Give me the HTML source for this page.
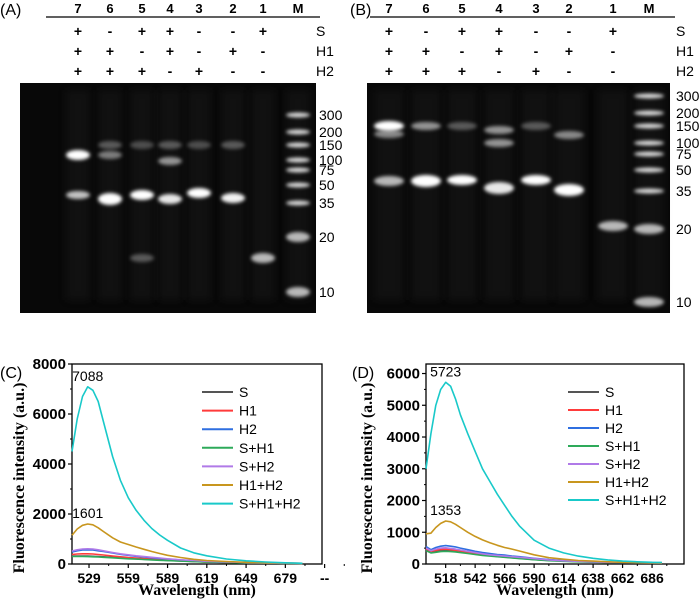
<!DOCTYPE html>
<html><head><meta charset="utf-8"><style>
html,body{margin:0;padding:0;background:#fff;}
</style></head><body>
<svg id="fig" width="700" height="605" viewBox="0 0 700 605" xmlns="http://www.w3.org/2000/svg" font-family="Liberation Sans, Arial, sans-serif">
<defs>
<filter id="bl" x="-50%" y="-200%" width="200%" height="500%"><feGaussianBlur stdDeviation="1.8"/></filter>
<filter id="bl2" x="-50%" y="-200%" width="200%" height="500%"><feGaussianBlur stdDeviation="4"/></filter>
</defs>
<g id="gels"></g>
<g id="chartC"></g>
<g id="chartD"></g>
</svg>
<script>
// ---- chart data ----
const seriesNames = ["S","H1","H2","S+H1","S+H2","H1+H2","S+H1+H2"];
const seriesColors = ["#555555","#ff3b3b","#2f6fe0","#2eaa5a","#b07ae8","#c8961e","#19c9c9"];
const wlC = [516,520,524,528,532,536,540,547,553,559,565,571,577,583,589,599,609,619,634,649,664,679,692];
const cS   = [320,320,320,315,310,300,290,270,250,230,210,190,175,160,145,120,100,80,60,46,36,28,24];
const cH1  = [380,400,410,410,400,380,360,320,290,260,240,220,200,180,160,130,105,85,65,50,38,30,25];
const cH2  = [480,530,560,570,560,530,500,440,390,350,310,280,250,220,200,160,130,100,75,55,42,33,27];
const cSH1 = [300,300,300,295,290,280,270,250,230,210,195,180,165,150,135,115,95,75,58,44,34,27,22];
const cSH2 = [520,570,600,610,600,570,530,460,410,370,330,300,270,240,210,170,140,110,80,60,45,35,28];
const cH1H2= [1150,1400,1550,1601,1570,1450,1300,1050,880,780,680,590,500,420,350,260,190,140,100,70,50,40,30];
const cAll = [4500,5800,6700,7088,6950,6500,5700,4300,3350,2650,2150,1750,1420,1160,950,640,450,330,200,130,80,50,30];
const ticksXC = ["529","559","589","619","649","679","--"];
const ticksYC = [0,2000,4000,6000,8000];

const wlD = [502,506,510,514,518,522,526,530,536,542,548,554,560,566,572,578,590,602,614,626,638,650,662,674,686,694];
const dS   = [450,370,400,420,430,420,400,380,350,310,280,260,240,220,200,180,140,110,90,75,62,50,43,38,34,30];
const dH1  = [480,400,430,460,470,450,430,410,370,330,300,270,250,230,210,190,150,120,95,80,65,52,45,40,36,32];
const dH2  = [550,450,520,560,580,560,540,500,450,400,360,330,300,280,250,230,180,140,110,90,75,60,50,45,40,35];
const dSH1 = [420,350,370,390,400,390,380,360,330,300,270,250,230,210,190,170,135,105,85,70,58,48,41,37,33,29];
const dSH2 = [500,420,470,500,510,490,470,440,400,360,320,290,270,250,230,210,170,130,100,85,70,55,48,42,38,33];
const dH1H2= [950,970,1150,1280,1353,1330,1250,1150,1000,870,760,670,590,520,470,410,290,200,150,110,90,70,55,45,40,35];
const dAll = [3000,4100,5000,5500,5723,5600,5200,4700,4100,3550,3000,2600,2200,1850,1500,1200,750,500,350,250,180,130,90,70,55,50];
const ticksXD = ["518","542","566","590","614","638","662","686"];
const ticksYD = [0,1000,2000,3000,4000,5000,6000];

const NS="http://www.w3.org/2000/svg";
function mk(tag,attrs,parent,txt){const e=document.createElementNS(NS,tag);for(const k in attrs)e.setAttribute(k,attrs[k]);if(txt!==undefined)e.textContent=txt;parent.appendChild(e);return e;}
const SERIF='Liberation Serif, Times New Roman, serif';

function chart(g,o){
  const xs=v=>o.x0+(v-o.wmin)/(o.wmax-o.wmin)*(o.x1-o.x0);
  const ys=v=>o.y1-(v-o.vmin)/(o.vmax-o.vmin)*(o.y1-o.y0);
  const fr=mk('rect',{x:o.x0,y:o.y0,width:o.x1-o.x0,height:o.y1-o.y0,fill:'none',stroke:'#000','stroke-width':1.3},g);
  
  o.yt.forEach(v=>{
    mk('line',{x1:o.x0-4,x2:o.x0,y1:ys(v),y2:ys(v),stroke:'#000','stroke-width':1.2},g);
    const t=mk('text',{x:o.x0-6,y:ys(v)+5,'text-anchor':'end','font-size':15,'font-weight':'bold'},g,String(v));
    
  });
  for(let i=0;i<o.yt.length-1;i++){const m=(o.yt[i]+o.yt[i+1])/2;mk('line',{x1:o.x0-2,x2:o.x0,y1:ys(m),y2:ys(m),stroke:'#000'},g);}
  o.xt.forEach((s,i)=>{
    const v=o.xt0+i*o.xstep;
    mk('line',{x1:xs(v),x2:xs(v),y1:o.y1,y2:o.y1+4,stroke:'#000','stroke-width':1.2},g);
    mk('line',{x1:xs(v+o.xstep/2),x2:xs(v+o.xstep/2),y1:o.y1,y2:o.y1+2,stroke:'#000'},g);
    const t=mk('text',{x:xs(v),y:o.y1+19,'text-anchor':'middle','font-size':14,'font-weight':'bold'},g,s);
    
  });
  const xt=mk('text',{x:(o.x0+o.x1)/2,y:595,'text-anchor':'middle','font-size':16,'font-weight':'bold','font-family':SERIF},g,'Wavelength (nm)');
  
  const cy=478;
  const yt=mk('text',{x:o.ytx,y:cy,'text-anchor':'middle','font-size':16,'font-weight':'bold','font-family':SERIF,transform:`rotate(-90 ${o.ytx} ${cy})`},g,'Fluorescence intensity (a.u.)');
  
  o.series.forEach((d,i)=>{
    const p=d.map((v,j)=>(j?'L':'M')+xs(o.wl[j]).toFixed(1)+','+ys(v).toFixed(1)).join(' ');
    const l=mk('path',{d:p,fill:'none',stroke:seriesColors[i],'stroke-width':1.6,'stroke-linejoin':'round'},g);
    
    
  });
  [5,6].forEach(i=>{
    const d=o.series[i];let m=0;d.forEach((v,j)=>{if(v>d[m])m=j;});
    const t=mk('text',{x:xs(o.wl[m]),y:ys(d[m])-6,'text-anchor':'middle','font-size':14},g,String(d[m]));
    
  });
  seriesNames.forEach((n,i)=>{
    const y=o.ly0+i*o.ldy;
    const l=mk('line',{x1:o.lx,x2:o.lx+31,y1:y,y2:y,stroke:seriesColors[i],'stroke-width':2},g);
    
    const t=mk('text',{x:o.lx+37,y:y+5,'font-size':14},g,n);
    
  });
  const pl=mk('text',{x:o.px,y:378,'font-size':16},g,o.plab);
  
}
chart(document.getElementById('chartC'),{x0:72,x1:322,y0:364,y1:564,wmin:516,wmax:707,vmin:0,vmax:8000,
  yt:ticksYC,xt:ticksXC,xt0:529,xstep:30,wl:wlC,series:[cS,cH1,cH2,cSH1,cSH2,cH1H2,cAll],
  ytx:24,lx:202,ly0:392,ldy:18.6,px:0,plab:'(C)'});
chart(document.getElementById('chartD'),{x0:426,x1:684,y0:364,y1:564,wmin:502,wmax:712,vmin:0,vmax:6300,
  yt:ticksYD,xt:ticksXD,xt0:518,xstep:24,wl:wlD,series:[dS,dH1,dH2,dSH1,dSH2,dH1H2,dAll],
  ytx:372,lx:568,ly0:392,ldy:18,px:352,plab:'(D)'});

// ---- gels ----
const gg=document.getElementById('gels');
function gel(o){
  const r=mk('rect',{x:o.x0,y:83,width:o.x1-o.x0,height:230,fill:'#080808'},gg);
  
  const pl=mk('text',{x:o.px,y:15,'font-size':16},gg,o.plab);
  
  mk('line',{x1:o.lineX0,x2:o.lineX1,y1:17,y2:17,stroke:'#000','stroke-width':1.2},gg);
  const labs=['7','6','5','4','3','2','1','M'];
  const S=['+','-','+','+','-','-','+'],H1=['+','+','-','+','-','+','-'],H2=['+','+','+','-','+','-','-'];
  o.lanes.forEach((x,i)=>{
    const t=mk('text',{x:x,y:13,'text-anchor':'middle','font-size':13,'font-weight':'bold'},gg,labs[i]);
    
    if(i<7){[S,H1,H2].forEach((a,k)=>{const tt=mk('text',{x:x,y:36+k*20,'text-anchor':'middle','font-size':14,'font-weight':'bold'},gg,a[i]);});}
    mk('rect',{x:x-o.bw/2,y:90,width:o.bw,height:210,fill:'#222',opacity:0.35,filter:'url(#bl2)'},gg);
  });
  ['S','H1','H2'].forEach((s,k)=>{const t=mk('text',{x:o.sx,y:36+k*20,'font-size':14},gg,s);});
  o.bands.forEach(b=>{
    const x=o.lanes[b[0]];
    mk('ellipse',{cx:x,cy:b[1],rx:o.bw/2,ry:b[3]||4,fill:'#fff',opacity:b[2],filter:'url(#bl)'},gg);
  });
  o.ladder.forEach((y,i)=>{
    mk('ellipse',{cx:o.lanes[7],cy:y,rx:o.bw/2,ry:i>=7?5:2.5,fill:'#fff',opacity:i>=7?0.7:0.85,filter:'url(#bl)'},gg);
    const t=mk('text',{x:o.lx,y:y+5,'font-size':14},gg,o.lt[i]);
    
  });
}
const lt=['300','200','150','100','75','50','35','20','10'];
gel({x0:20,x1:316,px:0,plab:'(A)',lineX0:46,lineX1:320,sx:316,bw:24,lx:319,
  lanes:[78,110,142,170,199,233,263,298],
  ladder:[115,132,145,160,170,185,203,237,292],lt:lt,
  bands:[[0,155,1,5],[0,195,0.75,4],[1,145,0.3],[1,155,0.45],[1,199,1,6],[2,145,0.25],[2,195,1,5],[2,258,0.3,4],
         [3,145,0.3],[3,161,0.55],[3,199,0.9,5],[4,145,0.25],[4,193,1,5],[5,145,0.3],[5,198,0.95,5],[6,258,0.7,5]]});
gel({x0:367,x1:670,px:350,plab:'(B)',lineX0:370,lineX1:675,sx:676,bw:30,lx:676,
  lanes:[389,426,462,499,536,569,613,649],
  ladder:[96,113,126,143,154,170,191,229,302],lt:lt,
  bands:[[0,126,1,5],[0,134,0.5],[0,181,0.7,5],[1,126,0.55],[1,181,1,6],[2,126,0.3],[2,180,1,5],
         [3,130,0.55],[3,143,0.55],[3,188,0.9,6],[4,126,0.3],[4,180,1,5],[5,135,0.5],[5,190,1,6],[6,226,0.7,5]]});
</script>
</body></html>
